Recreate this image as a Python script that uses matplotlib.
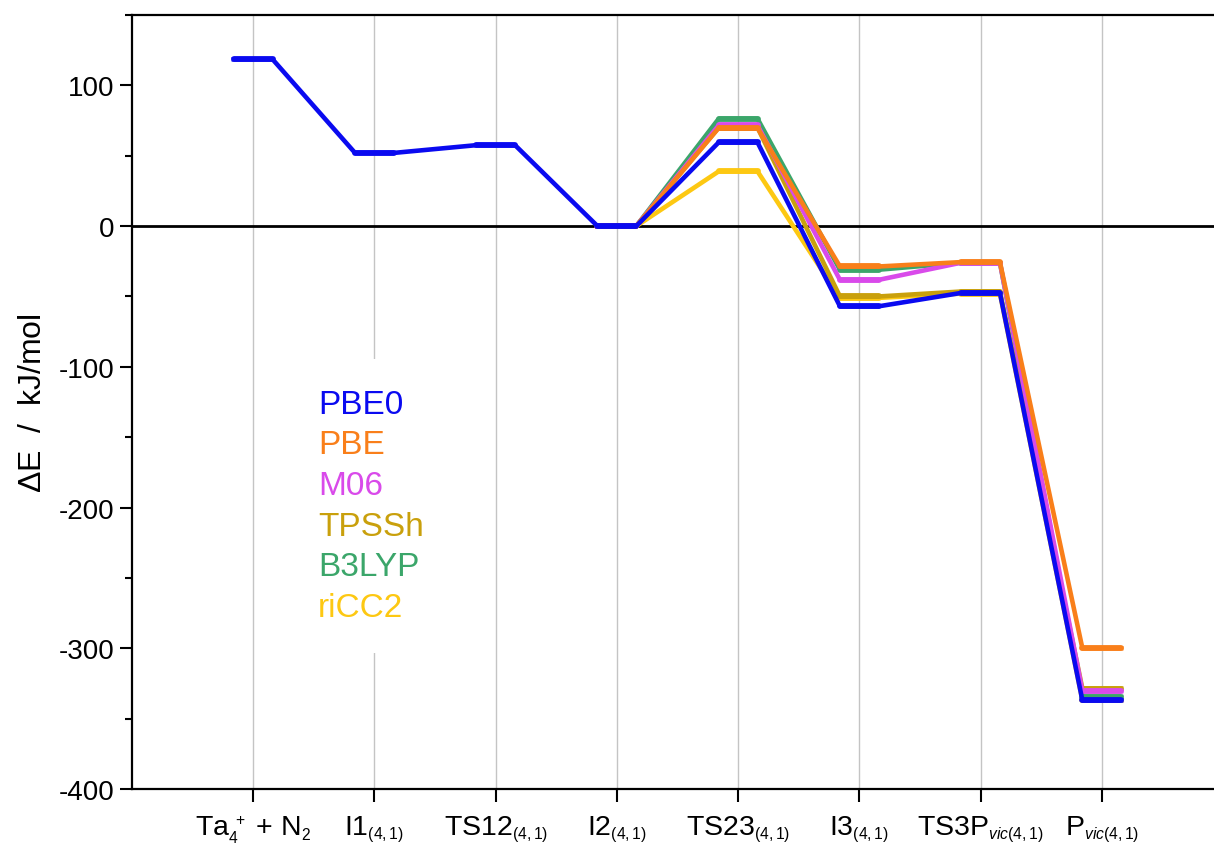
import numpy as np
import matplotlib
matplotlib.use('Agg')
import matplotlib.pyplot as plt
import matplotlib._mathtext as mathtext_internals
from matplotlib.ticker import MultipleLocator

plt.rcParams['font.family'] = 'Liberation Sans'
plt.rcParams['mathtext.fontset'] = 'custom'
plt.rcParams['mathtext.rm'] = 'Liberation Sans'
plt.rcParams['mathtext.it'] = 'Liberation Sans:italic'
plt.rcParams['axes.unicode_minus'] = False
# smaller sub/superscripts for the state labels
mathtext_internals.SHRINK_FACTOR = 0.55

# reaction coordinate
states = [r'Ta$_4^{\ +}$ + N$_2$', r'I1$_{(4,1)}$', r'TS12$_{(4,1)}$', r'I2$_{(4,1)}$',
          r'TS23$_{(4,1)}$', r'I3$_{(4,1)}$', r'TS3P$_{\mathit{vic}(4,1)}$',
          r'P$_{\mathit{vic}(4,1)}$']

# relative energies in kJ/mol (all relative to I2)
nan = np.nan
pbe0  = [118.5, 52.0, 57.5, 0.0, 59.5, -57.0, -47.5, -337.0]
pbe   = [nan, nan, nan, 0.0, 69.8, -28.7, -25.6, -300.0]
m06   = [nan, nan, nan, 0.0, 71.6, -38.2, -26.0, -330.5]
tpssh = [nan, nan, nan, 0.0, 70.0, -50.0, -46.5, -328.6]
b3lyp = [nan, nan, nan, 0.0, 76.3, -31.0, -26.0, -334.5]
ricc2 = [nan, nan, nan, 0.0, 38.9, -51.0, -48.0, -337.0]

methods = ['PBE0', 'PBE', 'M06', 'TPSSh', 'B3LYP', 'riCC2']
energies = [pbe0, pbe, m06, tpssh, b3lyp, ricc2]
colors = ['#0A0AF0', '#F97F1A', '#D94AEA', '#C9A00C', '#3BA66A', '#FDC812']
zorders = [10, 8, 7, 6, 5, 4]

fig = plt.figure(figsize=(12.14, 8.45), dpi=100)
ax = fig.add_axes([132/1214, 55/845, 1091/1214, 774/845])

w = 0.16
xs = np.arange(1, len(states) + 1)
handles = []
for name, e, c, z in zip(methods, energies, colors, zorders):
    e = np.array(e, dtype=float)
    ok = ~np.isnan(e)
    px = np.column_stack([xs[ok] - w, xs[ok] + w]).ravel()
    py = np.repeat(e[ok], 2)
    ln, = ax.plot(px, py, '-', color=c, lw=3.3, zorder=z, label=name,
                  solid_joinstyle='round')
    ax.hlines(e[ok], xs[ok] - w, xs[ok] + w, color=c, lw=4.2, zorder=z,
              capstyle='round')
    handles.append(ln)

ax.axhline(0, color='black', lw=2.0, zorder=2)
for x in xs:
    ax.axvline(x, color='#C4C4C4', lw=1.0, zorder=1)

ax.set_xlim(0, 9)
ax.set_ylim(-400, 150)
ax.set_xticks(xs)
ax.set_xticklabels(states, fontsize=20.5)
ax.yaxis.set_major_locator(MultipleLocator(100))
ax.yaxis.set_minor_locator(MultipleLocator(50))
ax.tick_params(axis='y', labelsize=20, width=1.5, length=9, direction='out')
ax.tick_params(axis='y', which='minor', width=1.5, length=5)
ax.tick_params(axis='x', width=1.5, length=9, direction='out', pad=9)
ax.set_ylabel(r'$\Delta$E  /  kJ/mol', fontsize=23, labelpad=8)

for s in ['left', 'bottom', 'top']:
    ax.spines[s].set_linewidth(1.6)
ax.spines['right'].set_visible(False)

leg = ax.legend(handles=handles, loc='upper left', bbox_to_anchor=(0.143, 0.556),
                borderaxespad=0, handlelength=0, handletextpad=0,
                labelcolor='linecolor', fontsize=24, frameon=True, framealpha=1,
                edgecolor='none', fancybox=False, borderpad=0.9, labelspacing=0.29)
for h in leg.legend_handles:
    h.set_visible(False)
leg.set_zorder(3)

fig.savefig('out.png', dpi=100)
